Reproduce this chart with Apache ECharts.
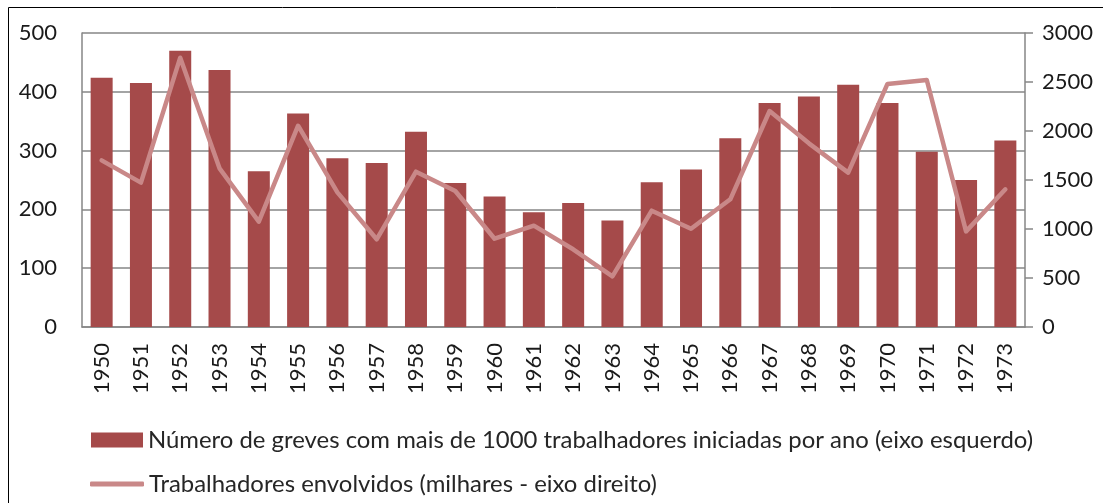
<!DOCTYPE html>
<html>
<head>
<meta charset="utf-8">
<script src="https://cdn.jsdelivr.net/npm/echarts@6/dist/echarts.min.js"></script>
<style>
  html, body { margin: 0; padding: 0; background: #fff; }
  #chart { width: 1103px; height: 503px; }
</style>
</head>
<body>
<div id="chart"></div>
<script>
  // data
  let years = ['1950','1951','1952','1953','1954','1955','1956','1957','1958','1959','1960','1961',
               '1962','1963','1964','1965','1966','1967','1968','1969','1970','1971','1972','1973'];
  let greves = [424, 415, 470, 437, 265, 363, 287, 279, 332, 245, 222, 195,
                211, 181, 246, 268, 321, 381, 392, 412, 381, 298, 250, 317];
  let trabalhadores = [1700, 1473, 2748, 1619, 1075, 2054, 1374, 895, 1585, 1388, 901, 1034,
                       793, 517, 1187, 1003, 1303, 2204, 1874, 1575, 2480, 2520, 976, 1405];
  let leftTicks = [0, 100, 500];
  let rightTicks = [0, 500, 3000];

  let barName = 'Número de greves com mais de 1000 trabalhadores iniciadas por ano (eixo esquerdo)';
  let lineName = 'Trabalhadores envolvidos (milhares - eixo direito)';

  let chart = echarts.init(document.getElementById('chart'));
  let font = 'Lato';
  let barColor = '#a54a4a';
  let lineColor = '#c98888';
  let gridColor = '#868686';

  let option = {
    animation: false,
    textStyle: { fontFamily: font },
    graphic: [
      {
        type: 'rect',
        shape: { x: 8.5, y: 7.5, width: 1120, height: 520 },
        style: { fill: 'none', stroke: '#000', lineWidth: 1 }
      }
    ],
    grid: { left: 82, right: 78, top: 33, bottom: 176 },
    // two legends so each icon keeps its own height
    legend: [
      {
        left: 86,
        top: 423,
        itemWidth: 52,
        itemHeight: 15,
        itemGap: 4,
        textStyle: { fontFamily: font, fontSize: 23.9, color: '#262626' },
        data: [{ name: barName, icon: 'rect' }]
      },
      {
        left: 85,
        top: 467,
        itemWidth: 54,
        itemHeight: 5,
        itemGap: 4,
        textStyle: { fontFamily: font, fontSize: 23.9, color: '#262626' },
        data: [{ name: lineName, icon: 'roundRect' }]
      }
    ],
    xAxis: {
      type: 'category',
      data: years,
      axisLine: { lineStyle: { color: gridColor, width: 1.5 } },
      axisTick: { show: false },
      axisLabel: { rotate: 90, fontSize: 22, color: '#1a1a1a', margin: 16 }
    },
    yAxis: [
      {
        type: 'value',
        min: leftTicks[0],
        max: leftTicks[2],
        interval: leftTicks[1],
        axisLine: { show: true, lineStyle: { color: gridColor, width: 1.5 } },
        axisTick: { show: false },
        splitLine: { lineStyle: { color: gridColor, width: 1.5 } },
        axisLabel: { fontSize: 22, color: '#1a1a1a', margin: 25 }
      },
      {
        type: 'value',
        min: rightTicks[0],
        max: rightTicks[2],
        interval: rightTicks[1],
        position: 'right',
        axisLine: { show: true, lineStyle: { color: gridColor, width: 1.5 } },
        axisTick: { show: true, length: 8, lineStyle: { color: gridColor, width: 1.5 } },
        splitLine: { show: false },
        axisLabel: {
          fontSize: 22, color: '#1a1a1a', margin: 17,
          formatter: (v) => String(v)
        }
      }
    ],
    series: [
      {
        name: barName,
        type: 'bar',
        yAxisIndex: 0,
        data: greves,
        barWidth: 22,
        itemStyle: { color: barColor }
      },
      {
        name: lineName,
        type: 'line',
        yAxisIndex: 1,
        data: trabalhadores,
        symbol: 'none',
        lineStyle: { color: lineColor, width: 4.5, cap: 'round', join: 'round' },
        itemStyle: { color: lineColor }
      }
    ]
  };

  chart.setOption(option);
</script>
</body>
</html>
